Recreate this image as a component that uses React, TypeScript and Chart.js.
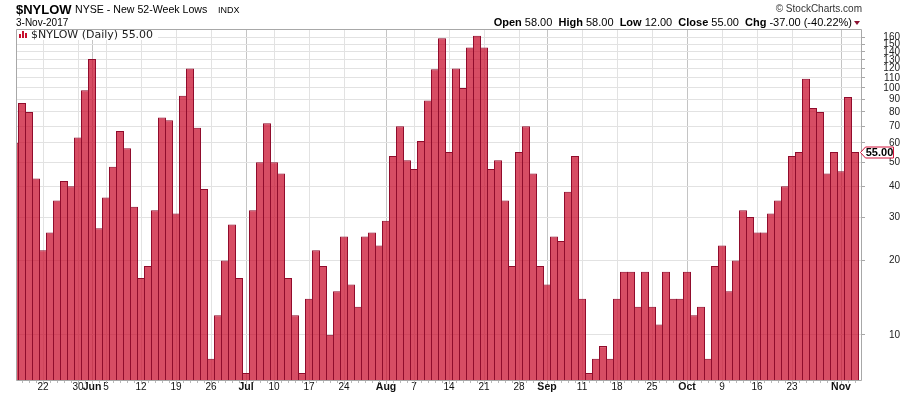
import React, { useEffect, useRef } from "react";
import { Chart, registerables } from "chart.js";

Chart.register(...registerables);

// ---- data ----
const tradingDays = [
  "5/16", "5/17", "5/18", "5/19", "5/22", "5/23", "5/24", "5/25", "5/26", "5/30", "5/31",
  "6/1", "6/2", "6/5", "6/6", "6/7", "6/8", "6/9", "6/12", "6/13", "6/14", "6/15", "6/16",
  "6/19", "6/20", "6/21", "6/22", "6/23", "6/26", "6/27", "6/28", "6/29", "6/30",
  "7/3", "7/5", "7/6", "7/7", "7/10", "7/11", "7/12", "7/13", "7/14", "7/17", "7/18", "7/19",
  "7/20", "7/21", "7/24", "7/25", "7/26", "7/27", "7/28", "7/31",
  "8/1", "8/2", "8/3", "8/4", "8/7", "8/8", "8/9", "8/10", "8/11", "8/14", "8/15", "8/16",
  "8/17", "8/18", "8/21", "8/22", "8/23", "8/24", "8/25", "8/28", "8/29", "8/30", "8/31",
  "9/1", "9/5", "9/6", "9/7", "9/8", "9/11", "9/12", "9/13", "9/14", "9/15", "9/18", "9/19",
  "9/20", "9/21", "9/22", "9/25", "9/26", "9/27", "9/28", "9/29",
  "10/2", "10/3", "10/4", "10/5", "10/6", "10/9", "10/10", "10/11", "10/12", "10/13", "10/16",
  "10/17", "10/18", "10/19", "10/20", "10/23", "10/24", "10/25", "10/26", "10/27", "10/30", "10/31",
  "11/1", "11/2", "11/3",
];

const newLows = [
  60, 87, 80, 43, 22, 26, 35, 42, 40, 63, 98,
  131, 27, 36, 48, 67, 57, 33, 17, 19, 32, 76, 74,
  31, 93, 120, 69, 39, 8, 12, 20, 28, 17,
  7, 32, 50, 72, 50, 45, 17, 12, 7, 14, 22, 19,
  10, 15, 25, 16, 13, 25, 26, 23,
  29, 53, 70, 51, 47, 61, 89, 119, 159, 55, 120, 100,
  146, 163, 146, 47, 51, 35, 19, 55, 70, 45, 19,
  16, 25, 24, 38, 53, 14, 7, 8, 9, 8, 14, 18,
  18, 13, 18, 13, 11, 18, 14, 14,
  18, 12, 13, 8, 19, 23, 15, 20, 32, 30, 26,
  26, 31, 35, 40, 53, 55, 109, 83, 80, 45, 55,
  46, 92, 55,
];

const tickDates = [
  "5/22", "5/30", "6/1", "6/5", "6/12", "6/19", "6/26", "7/3", "7/10", "7/17", "7/24",
  "8/1", "8/7", "8/14", "8/21", "8/28", "9/1", "9/11", "9/18", "9/25", "10/2", "10/9",
  "10/16", "10/23", "11/1",
];
const tickLabels = [
  "22", "30", "Jun", "5", "12", "19", "26", "Jul", "10", "17", "24",
  "Aug", "7", "14", "21", "28", "Sep", "11", "18", "25", "Oct", "9",
  "16", "23", "Nov",
];
const yTickValues = [10, 20, 30, 40, 50, 60, 70, 80, 90, 100, 110, 120, 130, 140, 150, 160];

const symbol = "$NYLOW";
const lastClose = 55;

// ---- layout constants ----
const X_MIN = 1 / 7;
const X_MAX = 1 / 7 + 845 / 7;
const Y_MIN = 6.56;
const Y_MAX = 173.4;
const SANS = '"Liberation Sans", Arial, sans-serif';

const tickIdx = tickDates.map((d) => tradingDays.indexOf(d));
const isMonth = (i: number) => i >= 0 && i < tickLabels.length && isNaN(Number(tickLabels[i]));

const decor = {
  id: "decor",
  afterDatasetsDraw(chart: any) {
    const { ctx, chartArea: a } = chart;
    ctx.save();
    // legend box
    ctx.fillStyle = "#ffffff";
    ctx.fillRect(a.left, a.top, 142, 11);
    ctx.fillStyle = "#c8102e";
    ctx.fillRect(19, 34, 2, 4);
    ctx.fillRect(22, 31, 2, 7);
    ctx.fillRect(25, 33, 2, 5);
    ctx.fillStyle = "#222";
    ctx.font = '11px "DejaVu Sans", sans-serif';
    ctx.textBaseline = "alphabetic";
    ctx.textAlign = "left";
    ctx.fillText(`${symbol} (Daily) ${lastClose.toFixed(2)}`, 31, 38);
    ctx.restore();
  },
  afterDraw(chart: any) {
    const { ctx, chartArea: a, scales } = chart;
    const xs = scales.x;
    const ys = scales.y;
    ctx.save();
    // plot frame
    ctx.strokeStyle = "#a8a8a8";
    ctx.lineWidth = 1;
    ctx.beginPath();
    ctx.moveTo(16.5, a.top + 0.5);
    ctx.lineTo(861.5, a.top + 0.5);
    ctx.lineTo(861.5, 380.5);
    ctx.lineTo(16.5, 380.5);
    ctx.closePath();
    ctx.stroke();
    // minor day ticks
    ctx.strokeStyle = "#b8b8b8";
    for (let i = 0; i < tradingDays.length; i++) {
      const px = Math.round(xs.getPixelForValue(i)) + 0.5;
      if (px < a.left || px > a.right) continue;
      const major = tickIdx.indexOf(i) >= 0;
      ctx.beginPath();
      ctx.moveTo(px, 381);
      ctx.lineTo(px, major ? 384 : 383);
      ctx.stroke();
    }
    // last price marker
    const y = Math.round(ys.getPixelForValue(lastClose));
    ctx.beginPath();
    ctx.moveTo(860.5, y + 0.5);
    ctx.lineTo(865.5, y - 5);
    ctx.lineTo(893.5, y - 5);
    ctx.lineTo(893.5, y + 6);
    ctx.lineTo(865.5, y + 6);
    ctx.closePath();
    ctx.fillStyle = "#ffffff";
    ctx.fill();
    ctx.strokeStyle = "#d4143c";
    ctx.stroke();
    ctx.fillStyle = "#000";
    ctx.font = `bold 11px ${SANS}`;
    ctx.textAlign = "center";
    ctx.textBaseline = "middle";
    ctx.fillText(lastClose.toFixed(2), 879.5, y + 1);
    ctx.restore();
  },
};

function NyLowChart() {
  const ref = useRef<HTMLCanvasElement | null>(null);
  useEffect(() => {
    if (!ref.current) return;
    const chart = new Chart(ref.current, {
      type: "bar",
      data: {
        datasets: [
          {
            data: newLows.map((v, i) => ({ x: i, y: v })),
            backgroundColor: "rgba(200, 8, 40, 0.72)",
            borderColor: "#900c2c",
            borderWidth: 1,
            borderSkipped: "bottom",
            barThickness: 8,
            inflateAmount: 0,
            clip: 0,
          } as any,
        ],
      },
      options: {
        responsive: false,
        animation: false,
        devicePixelRatio: 1,
        layout: { padding: { left: 16, right: 0, top: 29, bottom: 0 } },
        plugins: {
          legend: { display: false },
          tooltip: { enabled: false },
        },
        scales: {
          x: {
            type: "linear",
            position: "bottom",
            offset: false,
            min: X_MIN,
            max: X_MAX,
            bounds: "data",
            afterFit: (s: any) => {
              s.height = 16;
            },
            afterBuildTicks: (s: any) => {
              s.ticks = tickIdx.map((v) => ({ value: v }));
            },
            grid: {
              offset: false,
              color: (c: any) => (isMonth(c.index) ? "#c4c4c4" : "#e2e2e2"),
              drawTicks: false,
              lineWidth: 1,
            },
            border: { display: false },
            ticks: {
              autoSkip: false,
              maxRotation: 0,
              minRotation: 0,
              padding: 1,
              color: "#111",
              font: (c: any) =>
                isMonth(c.index)
                  ? { family: SANS, size: 10.5, weight: "bold" }
                  : { family: SANS, size: 10, weight: "normal" },
              callback: (_v: any, i: number) => tickLabels[i],
            },
          },
          y: {
            type: "logarithmic",
            position: "right",
            min: Y_MIN,
            max: Y_MAX,
            bounds: "data",
            afterFit: (s: any) => {
              s.width = 39;
            },
            afterBuildTicks: (s: any) => {
              s.ticks = yTickValues.map((v) => ({ value: v }));
            },
            grid: { color: "#e2e2e2", tickColor: "#a8a8a8", tickLength: 4, drawTicks: true },
            border: { display: false },
            ticks: {
              autoSkip: false,
              padding: 1,
              crossAlign: "far",
              color: "#222",
              font: { family: SANS, size: 10 },
              callback: (v: any) => String(v),
            },
          },
        } as any,
      },
      plugins: [decor],
    });
    return () => chart.destroy();
  }, []);

  const abs: React.CSSProperties = { position: "absolute", whiteSpace: "pre", color: "#000" };
  return (
    <div style={{ position: "fixed", left: 0, top: 0, width: 900, height: 396, background: "#fff", fontFamily: SANS }}>
      <canvas ref={ref} width={900} height={396} style={{ position: "absolute", left: 0, top: 0, width: 900, height: 396 }} />
      <div style={{ ...abs, left: 16, top: 3, font: `bold 13px ${SANS}`, lineHeight: "13px" }}>{symbol}</div>
      <div style={{ ...abs, left: 75, top: 4, font: `10.6px ${SANS}`, lineHeight: "11px" }}>NYSE - New 52-Week Lows</div>
      <div style={{ ...abs, left: 218, top: 5, font: `9px ${SANS}`, lineHeight: "10px" }}>INDX</div>
      <div style={{ ...abs, left: 16, top: 18, font: `10px ${SANS}`, lineHeight: "10px" }}>3-Nov-2017</div>
      <div style={{ ...abs, right: 38, top: 4, font: `10px ${SANS}`, lineHeight: "10px", color: "#333" }}>© StockCharts.com</div>
      <div style={{ ...abs, right: 48, top: 17, font: `11px ${SANS}`, lineHeight: "11px" }}>
        <b>Open</b> 58.00  <b>High</b> 58.00  <b>Low</b> 12.00  <b>Close</b> 55.00  <b>Chg</b> -37.00 (-40.22%)
      </div>
      <div
        style={{
          position: "absolute",
          left: 854,
          top: 21,
          width: 0,
          height: 0,
          borderLeft: "3.5px solid transparent",
          borderRight: "3.5px solid transparent",
          borderTop: "4.5px solid #8b1030",
        }}
      />
    </div>
  );
}

export default function App() {
  return <NyLowChart />;
}
